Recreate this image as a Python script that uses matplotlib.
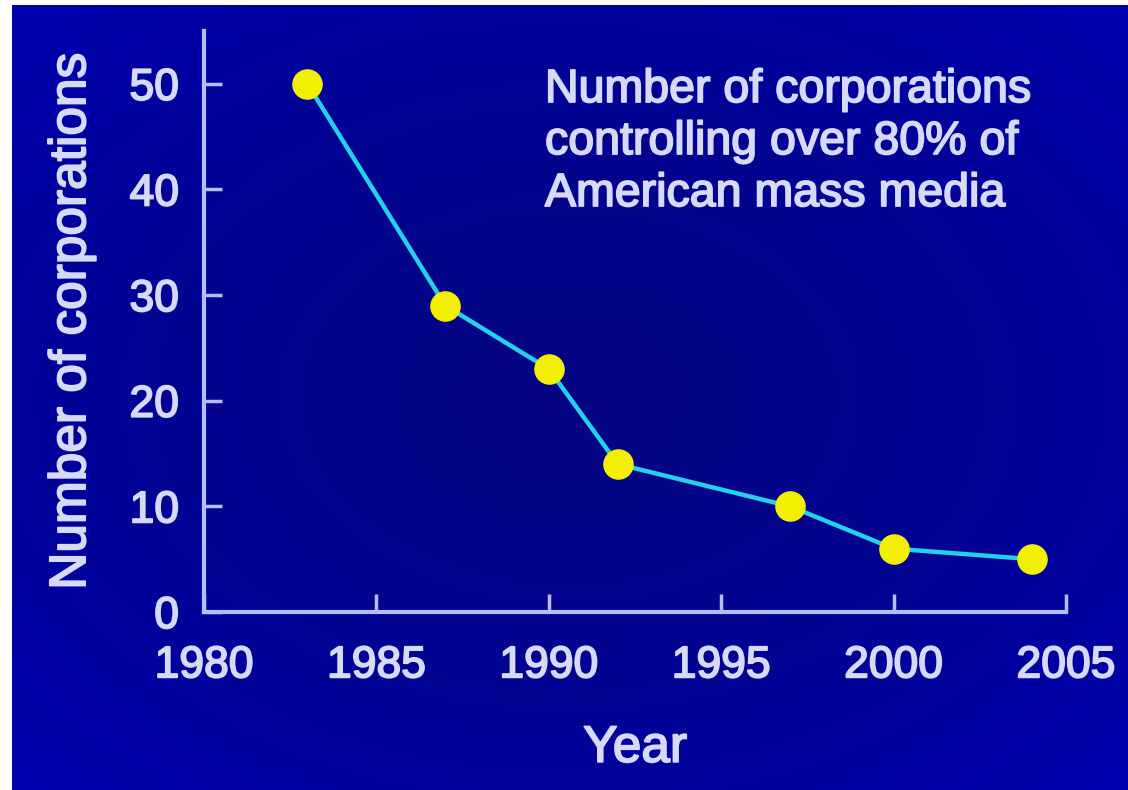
import numpy as np
import matplotlib
matplotlib.use("Agg")
import matplotlib.pyplot as plt
import matplotlib.patheffects as pe

# ---- data ----
years = [1983, 1987, 1990, 1992, 1997, 2000, 2004]
corporations = [50, 29, 23, 14, 10, 6, 5]
x_ticks = [1980, 1985, 1990, 1995, 2000, 2005]
y_ticks = [0, 10, 20, 30, 40, 50]
x_label = "Year"
y_label = "Number of corporations"
note_lines = ["Number of corporations", "controlling over 80% of", "American mass media"]

W, H, DPI = 1128, 790, 100
plt.rcParams['font.family'] = ['Liberation Sans', 'DejaVu Sans']
TXT = '#d6daf6'
SPINE = '#b4bcf0'
heavy = [pe.withStroke(linewidth=1.3, foreground=TXT)]

fig = plt.figure(figsize=(W / DPI, H / DPI), dpi=DPI, facecolor='white')

# background panel with radial vignette
bg = fig.add_axes([12 / W, 0, 1 - 12 / W, 1 - 5 / H])
bg.set_axis_off()
yy, xx = np.mgrid[-1:1:200j, -1:1:300j]
r = np.clip(np.sqrt(xx ** 2 + yy ** 2) / np.sqrt(2), 0, 1)
c0 = np.array([5, 5, 132]) / 255
c1 = np.array([0, 0, 176]) / 255
img = c0[None, None, :] * (1 - r[..., None] ** 1.6) + c1[None, None, :] * (r[..., None] ** 1.6)
bg.imshow(img, aspect='auto', extent=[0, 1, 0, 1])
bg.set_xlim(0, 1)
bg.set_ylim(0, 1)

ax = fig.add_axes([204 / W, 1 - 612 / H, (1066 - 204) / W, (612 - 31) / H])
ax.patch.set_alpha(0)
ax.plot(years, corporations, color='#22d2ea', lw=3.2, zorder=2, solid_joinstyle='round')
ax.plot(years, corporations, ls='none', marker='o', ms=21, mfc='#f2f000', mec='#f2f000', zorder=3)

ax.set_xlim(1980, 2005)
ax.set_ylim(0, 55)
ax.set_xticks(x_ticks)
ax.set_yticks(y_ticks)
ax.set_xticklabels([str(v) for v in x_ticks])
ax.set_yticklabels([str(v) for v in y_ticks])

for s in ['top', 'right']:
    ax.spines[s].set_visible(False)
for s in ['left', 'bottom']:
    ax.spines[s].set_color(SPINE)
    ax.spines[s].set_linewidth(3)
ax.tick_params(axis='both', direction='in', length=13, width=2.5, color=SPINE,
               labelcolor=TXT, labelsize=32)
ax.tick_params(axis='y', pad=18)
ax.tick_params(axis='x', pad=24)
for lab in ax.get_xticklabels() + ax.get_yticklabels():
    lab.set_path_effects(heavy)

ax.set_xlabel(x_label, fontsize=37, color=TXT, labelpad=27, path_effects=heavy)
ax.set_ylabel(y_label, fontsize=37, color=TXT, labelpad=24, path_effects=heavy)

for i, line in enumerate(note_lines):
    fig.text(545 / W, 1 - (102 + 52 * i) / H, line, fontsize=33.5, color=TXT,
             ha='left', va='baseline', path_effects=heavy)

fig.savefig('out.png', dpi=DPI, facecolor=fig.get_facecolor())
